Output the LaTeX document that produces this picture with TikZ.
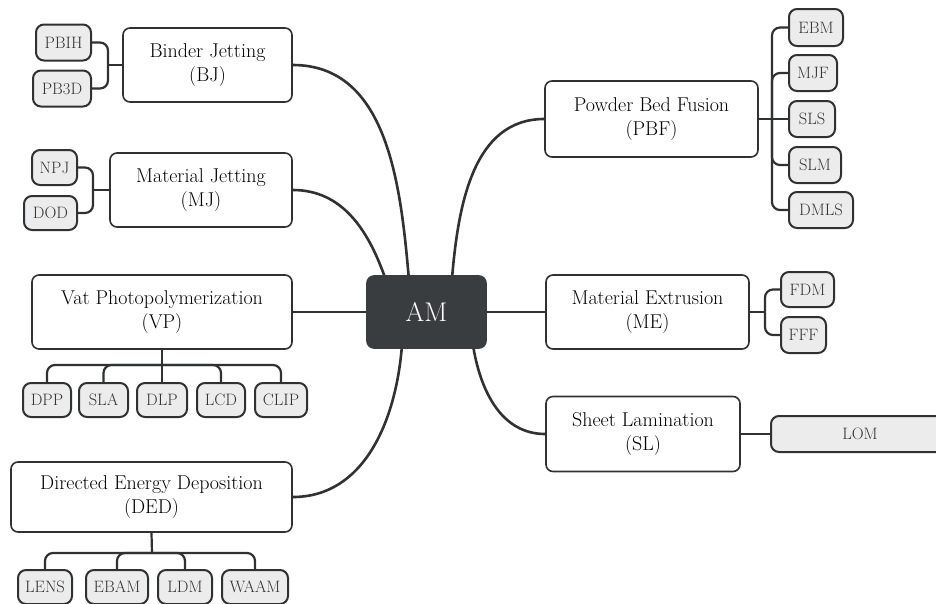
\documentclass[tikz,border=0pt]{standalone}
\usepackage{tikz}
\usetikzlibrary{calc}

\definecolor{linec}{HTML}{2F3133}
\definecolor{amfill}{HTML}{3A3D40}
\definecolor{leaffill}{HTML}{ECECEC}
\definecolor{leaftext}{HTML}{333333}

\begin{document}
\begin{tikzpicture}[x=1pt,y=-1pt,
	mainbox/.style={draw=linec, line width=1.6pt, rounded corners=7pt, fill=white, align=center,
		text=black, inner sep=0pt, font=\fontsize{20}{24}\selectfont},
	leafbox/.style={draw=linec, line width=2pt, rounded corners=8pt, fill=leaffill,
		text=leaftext, inner sep=0pt, minimum height=36pt, font=\fontsize{16.5}{20}\selectfont},
	link/.style={draw=linec, line width=2.6pt},
	twig/.style={draw=linec, line width=2.2pt, rounded corners=8pt}]
	\useasboundingbox (0,0) rectangle (936,603);
	%\draw[help lines] (0,0) grid[step=50] (936,603);
	% centre
	\node[mainbox, fill=amfill, draw=amfill, text=white, minimum width=119pt, minimum height=72pt,
		font=\fontsize{27}{30}\selectfont] (am) at (426.5,312) {AM};
	% left side
	\node[mainbox, minimum width=169pt, minimum height=74pt] (bj) at (207.5,65) {Binder Jetting\\(BJ)};
	\node[mainbox, minimum width=182pt, minimum height=74pt] (mj) at (201,190) {Material Jetting\\(MJ)};
	\node[mainbox, minimum width=260pt, minimum height=74pt] (vp) at (162,312) {Vat Photopolymerization\\(VP)};
	\node[mainbox, minimum width=281pt, minimum height=70pt] (ded) at (151.5,497) {Directed Energy Deposition\\(DED)};
	% right side
	\node[mainbox, minimum width=213pt, minimum height=76pt] (pbf) at (651.5,119) {Powder Bed Fusion\\(PBF)};
	\node[mainbox, minimum width=203pt, minimum height=74pt] (me) at (647.5,312) {Material Extrusion\\(ME)};
	\node[mainbox, minimum width=194pt, minimum height=75pt] (sl) at (643,434) {Sheet Lamination\\(SL)};

	\draw[link] (bj.east) to[out=0,in=95] (am.116);
	\draw[link] (mj.east) to[out=0,in=110] (am.139);
	\draw[link] (vp.east) -- (am.west);
	\draw[link] (ded.east) to[out=0,in=265] (am.236);
	\draw[link] (am.55) to[out=85,in=180] (pbf.west);
	\draw[link] (am.east) -- (me.west);
	\draw[link] (am.322) to[out=-80,in=180] (sl.west);

	% leaves BJ
	\node[leafbox, minimum width=55pt] (pbih) at (63.5,42.5) {PBIH};
	\node[leafbox, minimum width=58pt] (pb3d) at (62,88.5) {PB3D};
	\coordinate (bjfork) at (108,65);
	\draw[twig] (pbih.east) -| (bjfork) |- (pb3d.east);
	\draw[twig] (bj.west) -- (bjfork);
	% leaves MJ
	\node[leafbox, minimum width=45pt, minimum height=35pt] (npj) at (54.5,167.5) {NPJ};
	\node[leafbox, minimum width=53pt, minimum height=34pt] (dod) at (50.5,213) {DOD};
	\coordinate (mjfork) at (93,190);
	\draw[twig] (npj.east) -| (mjfork) |- (dod.east);
	\draw[twig] (mj.west) -- (mjfork);
	% leaves VP
	\node[leafbox, minimum width=48pt, minimum height=34pt] (dpp) at (47,400) {DPP};
	\node[leafbox, minimum width=49pt, minimum height=34pt] (sla) at (103.5,400) {SLA};
	\node[leafbox, minimum width=50pt, minimum height=34pt] (dlp) at (162,400) {DLP};
	\node[leafbox, minimum width=48pt, minimum height=34pt] (lcd) at (221,400) {LCD};
	\node[leafbox, minimum width=52pt, minimum height=34pt] (clip) at (281,400) {CLIP};
	\coordinate (vpfork) at (162,365);
	\draw[twig] (dpp.north) |- (vpfork) -| (clip.north);
	\draw[twig] (vpfork) -| (sla.north);
	\draw[twig] (vpfork) -| (lcd.north);
	\draw[twig] (vp.south) -- (dlp.north);
	% leaves DED
	\node[leafbox, minimum width=54pt, minimum height=34pt] (lens) at (45,587) {LENS};
	\node[leafbox, minimum width=62pt, minimum height=34pt] (ebam) at (117,587) {EBAM};
	\node[leafbox, minimum width=54pt, minimum height=34pt] (ldm) at (185,587) {LDM};
	\node[leafbox, minimum width=66pt, minimum height=34pt] (waam) at (255,587) {WAAM};
	\coordinate (dedfork) at (152,553);
	\draw[twig] (lens.north) |- (dedfork) -| (waam.north);
	\draw[twig] (dedfork) -| (ebam.north);
	\draw[twig] (dedfork) -| (ldm.north);
	\draw[twig] (ded.south) -- (dedfork);
	% leaves PBF
	\node[leafbox, minimum width=54pt, minimum height=37pt] (ebm) at (816,27.5) {EBM};
	\node[leafbox, minimum width=48pt] (mjf) at (813,73) {MJF};
	\node[leafbox, minimum width=46pt] (sls) at (812,119) {SLS};
	\node[leafbox, minimum width=52pt] (slm) at (815,165) {SLM};
	\node[leafbox, minimum width=64pt] (dmls) at (821,210) {DMLS};
	\coordinate (pbffork) at (772,119);
	\draw[twig] (ebm.west) -| (pbffork) |- (dmls.west);
	\draw[twig] (pbffork) |- (mjf.west);
	\draw[twig] (pbffork) |- (slm.west);
	\draw[twig] (pbf.east) -- (sls.west);
	% leaves ME
	\node[leafbox, minimum width=53pt, minimum height=35pt] (fdm) at (807.5,289.5) {FDM};
	\node[leafbox, minimum width=45pt] (fff) at (803.5,335) {FFF};
	\coordinate (mefork) at (765,312);
	\draw[twig] (fdm.west) -| (mefork) |- (fff.west);
	\draw[twig] (me.east) -- (mefork);
	% leaf SL
	\node[leafbox, minimum width=178pt] (lom) at (860,434) {LOM};
	\draw[twig] (sl.east) -- (lom.west);
\end{tikzpicture}
\end{document}
